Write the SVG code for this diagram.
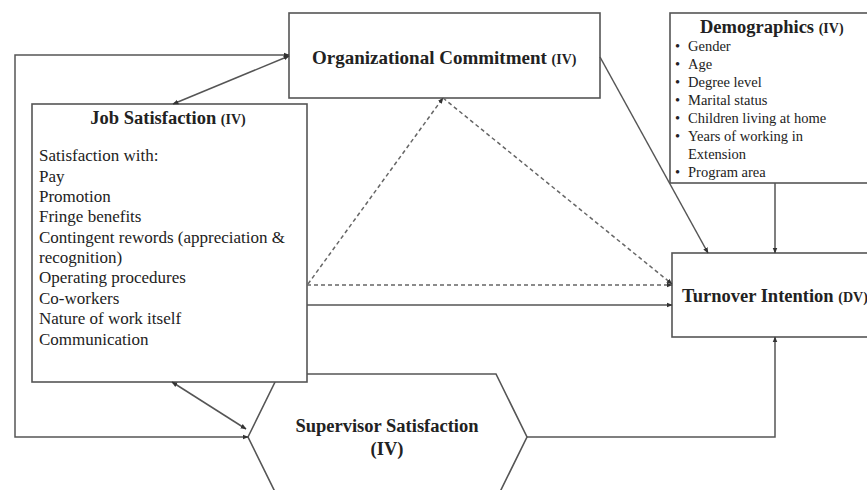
<svg xmlns="http://www.w3.org/2000/svg" width="867" height="490" viewBox="0 0 867 490">
<defs>
<style>
.box{fill:#fff;stroke:#555;stroke-width:1.6}
.ln{fill:none;stroke:#555;stroke-width:1.5}
.dash{fill:none;stroke:#666;stroke-width:1.5;stroke-dasharray:4 3}
.t{font-family:"Liberation Serif","Times New Roman",serif;fill:#222}
.b{font-weight:bold}
.body{font-size:17px}
.demo{font-size:14.5px}
</style>
<marker id="ah" viewBox="0 0 10 10" refX="9" refY="5" markerWidth="6" markerHeight="6" orient="auto-start-reverse" markerUnits="userSpaceOnUse">
<path d="M0,1 L10,5 L0,9 z" fill="#333"/>
</marker>
</defs>
<rect width="867" height="490" fill="#fff"/>

<g id="supervisor-satisfaction">
<polygon class="box" points="248,437 279,374 496,374 527,437 496,500 279,500"/>
<text class="t b" x="387" y="432" font-size="18.5" text-anchor="middle">Supervisor Satisfaction</text>
<text class="t b" x="387" y="455" font-size="18.5" text-anchor="middle">(IV)</text>
</g>

<g id="job-satisfaction">
<rect class="box" x="32" y="104" width="275" height="278"/>
<text class="t b" x="168" y="124" font-size="18.5" text-anchor="middle">Job Satisfaction <tspan font-size="14">(IV)</tspan></text>
<g class="t body">
<text x="39" y="161">Satisfaction with:</text>
<text x="39" y="181.5">Pay</text>
<text x="39" y="202">Promotion</text>
<text x="39" y="222">Fringe benefits</text>
<text x="39" y="243">Contingent rewords (appreciation &amp;</text>
<text x="39" y="263">recognition)</text>
<text x="39" y="283">Operating procedures</text>
<text x="39" y="304">Co-workers</text>
<text x="39" y="324">Nature of work itself</text>
<text x="39" y="345">Communication</text>
</g>
</g>

<g id="organizational-commitment">
<rect class="box" x="289" y="13" width="311" height="85"/>
<text class="t b" x="312" y="64" font-size="19">Organizational Commitment <tspan font-size="14">(IV)</tspan></text>
</g>

<g id="demographics">
<rect class="box" x="670" y="13" width="210" height="170"/>
<text class="t b" x="700" y="33" font-size="18.5">Demographics <tspan font-size="14">(IV)</tspan></text>
<g class="t demo">
<text x="675" y="51">•</text><text x="688" y="51">Gender</text>
<text x="675" y="69">•</text><text x="688" y="69">Age</text>
<text x="675" y="87">•</text><text x="688" y="87">Degree level</text>
<text x="675" y="105">•</text><text x="688" y="105">Marital status</text>
<text x="675" y="123">•</text><text x="688" y="123">Children living at home</text>
<text x="675" y="141">•</text><text x="688" y="141">Years of working in</text>
<text x="688" y="159">Extension</text>
<text x="675" y="177">•</text><text x="688" y="177">Program area</text>
</g>
</g>

<g id="turnover-intention">
<rect class="box" x="672" y="253" width="210" height="84"/>
<text class="t b" x="682" y="302" font-size="18.5">Turnover Intention <tspan font-size="14">(DV)</tspan></text>
</g>

<g id="connectors">
<line class="ln" x1="173" y1="104" x2="289" y2="56" marker-start="url(#ah)" marker-end="url(#ah)"/>
<path class="ln" d="M248,437 H15 V55 H289" marker-start="url(#ah)" marker-end="url(#ah)"/>
<line class="ln" x1="172" y1="382" x2="246" y2="429" marker-start="url(#ah)" marker-end="url(#ah)"/>
<line class="ln" x1="600" y1="57" x2="708" y2="253" marker-end="url(#ah)"/>
<line class="ln" x1="775" y1="183" x2="775" y2="253" marker-end="url(#ah)"/>
<path class="ln" d="M527,437 H775 V337" marker-end="url(#ah)"/>
<line class="ln" x1="307" y1="305" x2="672" y2="305" marker-end="url(#ah)"/>
<line class="dash" x1="307" y1="285" x2="672" y2="285" marker-end="url(#ah)"/>
<line class="dash" x1="308" y1="284" x2="443" y2="98" marker-end="url(#ah)"/>
<line class="dash" x1="443" y1="98" x2="672" y2="284" marker-end="url(#ah)"/>
</g>
</svg>
